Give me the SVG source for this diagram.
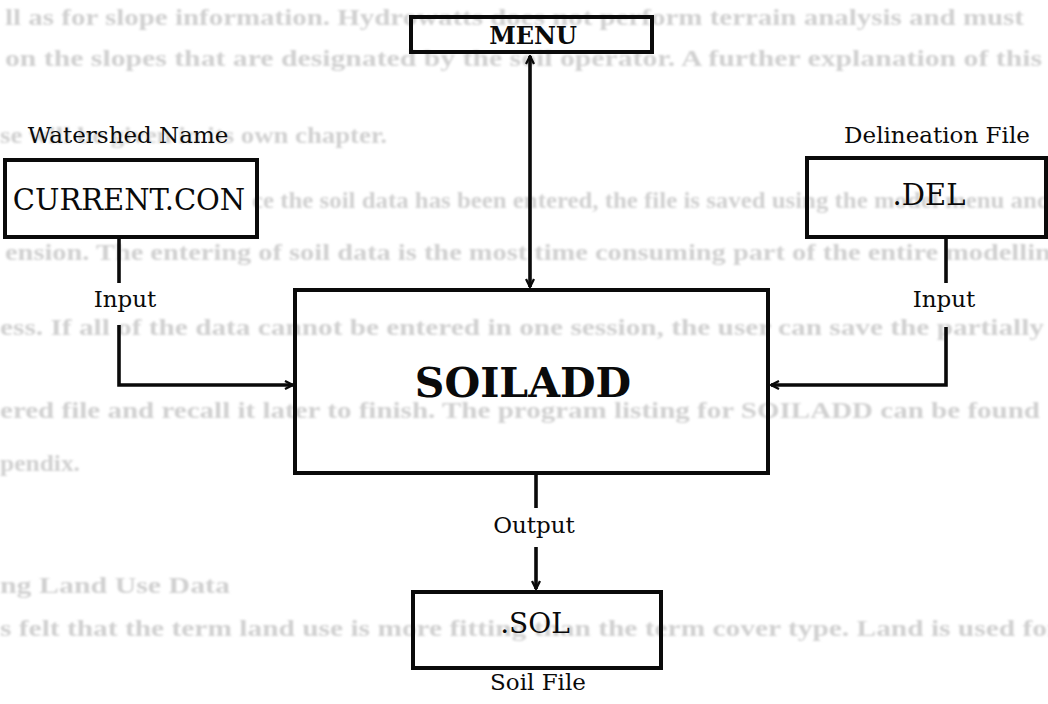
<svg xmlns="http://www.w3.org/2000/svg" width="1048" height="704" viewBox="0 0 1048 704">
  <defs>
    <style>
      .bg text { font-family: "Liberation Serif", "Times New Roman", serif; font-weight: bold; font-size: 24px; fill: #d0d0d0; }
      .box { fill: none; stroke: #0a0a0a; stroke-width: 4; }
      .wire { fill: none; stroke: #0a0a0a; stroke-width: 3.6; }
      .lbl { font-family: "DejaVu Serif", "Liberation Serif", serif; font-size: 23px; fill: #0a0a0a; text-anchor: middle; }
      .name { font-family: "DejaVu Serif", "Liberation Serif", serif; font-size: 29px; fill: #0a0a0a; text-anchor: middle; }
      .bold { font-weight: bold; }
    </style>
    <filter id="soft" x="-5%" y="-5%" width="110%" height="110%">
      <feGaussianBlur stdDeviation="0.8"/>
    </filter>
    <marker id="arrow" viewBox="0 0 10 10" refX="9" refY="5" markerWidth="10" markerHeight="10" markerUnits="userSpaceOnUse" orient="auto-start-reverse">
      <path d="M1,1 L9,5 L1,9" fill="none" stroke="#0a0a0a" stroke-width="2.3"/>
    </marker>
  </defs>

  <rect x="0" y="0" width="1048" height="704" fill="#ffffff"/>

  <!-- faded page text behind the figure -->
  <g class="bg" filter="url(#soft)">
    <text x="5" y="25" textLength="1019" lengthAdjust="spacingAndGlyphs">ll as for slope information.  Hydrowatts does not perform terrain analysis and must</text>
    <text x="5" y="66" textLength="1037" lengthAdjust="spacingAndGlyphs">on the slopes that are designated by the soil operator.  A further explanation of this</text>
    <text x="0" y="143" textLength="387" lengthAdjust="spacingAndGlyphs">se will be given in its own chapter.</text>
    <text x="252" y="208" textLength="900" lengthAdjust="spacingAndGlyphs">ce the soil data has been entered, the file is saved using the model menu and the .SOL</text>
    <text x="5" y="260" textLength="1060" lengthAdjust="spacingAndGlyphs">ension.  The entering of soil data is the most time consuming part of the entire modelling</text>
    <text x="0" y="335" textLength="1044" lengthAdjust="spacingAndGlyphs">ess.  If all of the data cannot be entered in one session, the user can save the partially</text>
    <text x="0" y="418" textLength="1040" lengthAdjust="spacingAndGlyphs">ered file and recall it later to finish.  The program listing for SOILADD can be found</text>
    <text x="0" y="471" textLength="80" lengthAdjust="spacingAndGlyphs">pendix.</text>
    <text x="0" y="593" textLength="230" lengthAdjust="spacingAndGlyphs">ng Land Use Data</text>
    <text x="0" y="636" textLength="1060" lengthAdjust="spacingAndGlyphs">s felt that the term land use is more fitting than the term cover type.  Land is used for</text>
  </g>

  <!-- connectors -->
  <g id="connectors">
    <path class="wire" d="M530,56 V287" marker-start="url(#arrow)" marker-end="url(#arrow)"/>
    <path class="wire" d="M119,237 V283"/>
    <path class="wire" d="M119,325 V385 H293" marker-end="url(#arrow)"/>
    <text class="lbl" x="125" y="307">Input</text>
    <path class="wire" d="M946,237 V283"/>
    <path class="wire" d="M946,327 V385 H771" marker-end="url(#arrow)"/>
    <text class="lbl" x="944" y="307">Input</text>
    <path class="wire" d="M536,473 V508"/>
    <text class="lbl" x="534" y="533">Output</text>
    <path class="wire" d="M536,547 V589" marker-end="url(#arrow)"/>
  </g>

  <g id="menu">
    <rect class="box" x="411" y="17" width="241" height="35"/>
    <text class="name bold" x="533" y="44" style="font-size:24px">MENU</text>
  </g>

  <g id="current-con">
    <text class="lbl" x="128" y="143">Watershed Name</text>
    <rect class="box" x="5" y="160" width="252" height="77"/>
    <text class="name" x="129" y="210">CURRENT.CON</text>
  </g>

  <g id="del">
    <text class="lbl" x="937" y="143">Delineation File</text>
    <rect class="box" x="807" y="158" width="239" height="79"/>
    <text class="name" x="929" y="205">.DEL</text>
  </g>

  <g id="soiladd">
    <rect class="box" x="295" y="290" width="473" height="183"/>
    <text class="name bold" x="523" y="397" style="font-size:41px">SOILADD</text>
  </g>

  <g id="sol">
    <rect class="box" x="413" y="592" width="248" height="76"/>
    <text class="name" x="535" y="633" style="font-size:28px">.SOL</text>
    <text class="lbl" x="538" y="690">Soil File</text>
  </g>
</svg>
